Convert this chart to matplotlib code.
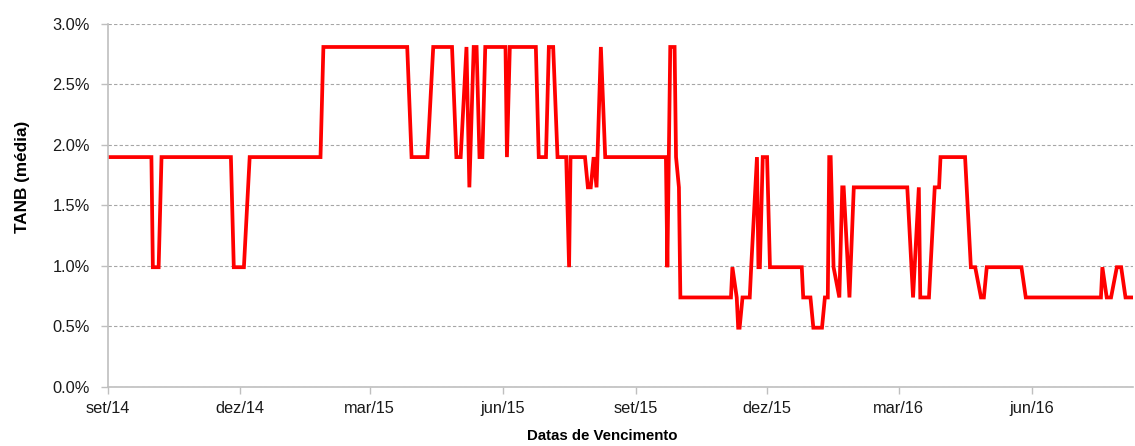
import matplotlib.pyplot as plt
import matplotlib.ticker as mticker
import pandas as pd

plt.rcParams['font.family'] = ['Liberation Sans', 'DejaVu Sans']

# data (maturity date, average TANB in %)
datas = [
    '2014-09-01', '2014-10-01', '2014-10-02', '2014-10-06', '2014-10-08',
    '2014-11-25', '2014-11-27', '2014-12-04', '2014-12-08', '2015-01-26',
    '2015-01-28', '2015-03-27', '2015-03-30', '2015-04-10', '2015-04-14',
    '2015-04-27', '2015-04-30', '2015-05-03', '2015-05-07', '2015-05-09',
    '2015-05-12', '2015-05-14', '2015-05-16', '2015-05-18', '2015-05-20',
    '2015-06-03', '2015-06-04', '2015-06-06', '2015-06-24', '2015-06-26',
    '2015-07-01', '2015-07-03', '2015-07-06', '2015-07-09', '2015-07-15',
    '2015-07-17', '2015-07-18', '2015-07-28', '2015-07-30', '2015-08-01',
    '2015-08-03', '2015-08-05', '2015-08-08', '2015-08-11', '2015-09-22',
    '2015-09-23', '2015-09-25', '2015-09-28', '2015-09-29', '2015-10-01',
    '2015-10-02', '2015-11-06', '2015-11-07', '2015-11-10', '2015-11-11',
    '2015-11-12', '2015-11-14', '2015-11-19', '2015-11-20', '2015-11-24',
    '2015-11-25', '2015-11-26', '2015-11-28', '2015-12-01', '2015-12-03',
    '2015-12-25', '2015-12-26', '2015-12-31', '2016-01-02', '2016-01-08',
    '2016-01-10', '2016-01-12', '2016-01-13', '2016-01-14', '2016-01-16',
    '2016-01-20', '2016-01-22', '2016-01-23', '2016-01-27', '2016-01-30',
    '2016-03-07', '2016-03-11', '2016-03-15', '2016-03-16', '2016-03-22',
    '2016-03-26', '2016-03-29', '2016-03-30', '2016-04-16', '2016-04-20',
    '2016-04-23', '2016-04-27', '2016-04-29', '2016-05-01', '2016-05-25',
    '2016-05-28', '2016-07-19', '2016-07-20', '2016-07-23', '2016-07-26',
    '2016-07-30', '2016-08-02', '2016-08-05', '2016-08-10',
]
tanb = [
    1.90, 1.90, 0.99, 0.99, 1.90,
    1.90, 0.99, 0.99, 1.90, 1.90,
    2.81, 2.81, 1.90, 1.90, 2.81,
    2.81, 1.90, 1.90, 2.81, 1.65,
    2.81, 2.81, 1.90, 1.90, 2.81,
    2.81, 1.90, 2.81, 2.81, 1.90,
    1.90, 2.81, 2.81, 1.90, 1.90,
    0.99, 1.90, 1.90, 1.65, 1.65,
    1.90, 1.65, 2.81, 1.90, 1.90,
    0.99, 2.81, 2.81, 1.90, 1.65,
    0.74, 0.74, 0.99, 0.74, 0.49,
    0.49, 0.74, 0.74, 0.99, 1.90,
    0.99, 0.99, 1.90, 1.90, 0.99,
    0.99, 0.74, 0.74, 0.49, 0.49,
    0.74, 0.74, 1.90, 1.90, 0.99,
    0.74, 1.65, 1.65, 0.74, 1.65,
    1.65, 0.74, 1.65, 0.74, 0.74,
    1.65, 1.65, 1.90, 1.90, 0.99,
    0.99, 0.74, 0.74, 0.99, 0.99,
    0.74, 0.74, 0.99, 0.74, 0.74,
    0.99, 0.99, 0.74, 0.74,
]

tick_datas = ['2014-09-01', '2014-12-01', '2015-03-01', '2015-06-01',
              '2015-09-01', '2015-12-01', '2016-03-01', '2016-06-01']
tick_labels = ['set/14', 'dez/14', 'mar/15', 'jun/15',
               'set/15', 'dez/15', 'mar/16', 'jun/16']

x = pd.to_datetime(datas)
y = [v / 100 for v in tanb]

fig = plt.figure(figsize=(11.35, 4.46), dpi=100)
ax = fig.add_axes([0.0952, 0.1323, 0.9028, 0.8139])

ax.plot(x, y, color='#ff0000', lw=2.7, solid_joinstyle='miter')

ax.set_xlim(pd.Timestamp('2014-09-01'), pd.Timestamp('2016-08-10'))
ax.set_ylim(0, 0.03)
ax.set_yticks([i * 0.005 for i in range(7)])
ax.yaxis.set_major_formatter(mticker.PercentFormatter(1.0, decimals=1))
ax.set_xticks(pd.to_datetime(tick_datas))
ax.set_xticklabels(tick_labels)

ax.grid(axis='y', color='#a6a6a6', linestyle=(0, (3, 2)), lw=0.8)
ax.set_axisbelow(True)
for s in ['top', 'right']:
    ax.spines[s].set_visible(False)
for s in ['left', 'bottom']:
    ax.spines[s].set_color('#bfbfbf')
    ax.spines[s].set_linewidth(1.2)
ax.tick_params(axis='both', colors='#bfbfbf', length=5, width=1,
               labelsize=11.8, labelcolor='#1a1a1a')
ax.tick_params(axis='x', pad=5)
ax.tick_params(axis='y', pad=8)

ax.set_ylabel('TANB (média)', fontsize=12.3, fontweight='bold')
ax.yaxis.set_label_coords(-0.076, 0.58)
ax.set_xlabel('Datas de Vencimento', fontsize=10.8, fontweight='bold')
ax.xaxis.set_label_coords(0.482, -0.117)

fig.savefig('out.png', dpi=100)
